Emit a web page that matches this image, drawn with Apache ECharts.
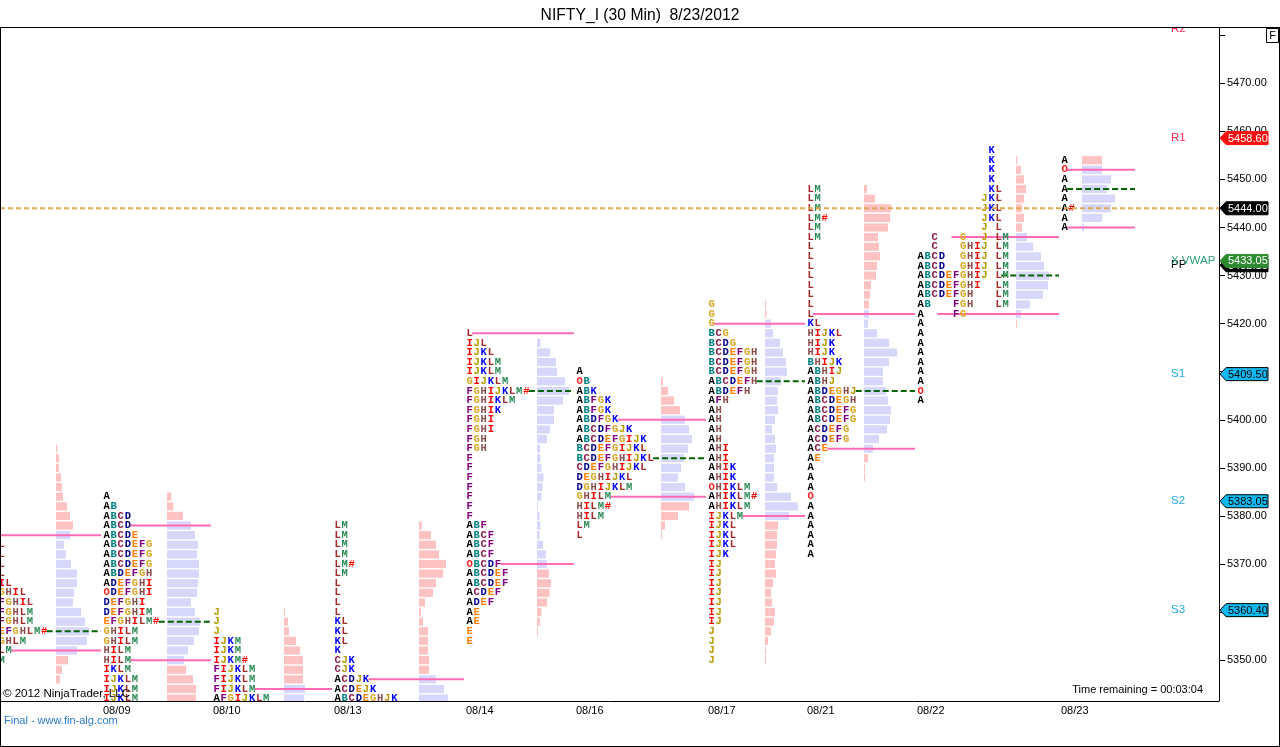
<!DOCTYPE html>
<html><head><meta charset="utf-8">
<script src="https://cdn.jsdelivr.net/npm/echarts@6/dist/echarts.min.js"></script>
<style>html,body{margin:0;padding:0;background:#fff}#c{width:1280px;height:747px}</style>
</head><body><div id="c"></div>
<script>
// ---------- data ----------
const sessionDates = ['', '08/09', '08/10', '08/13', '08/14', '08/16', '08/17', '08/21', '08/22', '08/23'];
// session start on the (bar-slot) time axis; last entry = current bar
const sessionX = [-2, 103, 213, 334, 466, 576, 708, 807, 917, 1061, 1137];
// time-axis position where each session's volume profile starts
const volumeX = [56, 167, 284, 419, 537, 661, 765, 864, 1016, 1082];
const tickSize = 2;
const tpoTop = [5374, 5384, 5360, 5378, 5418, 5410, 5424, 5448, 5456, 5454];
const tpoRows = [
  ['L','L','L','L','IL','GHIL','FGHIL','FGHLM','FGHLM','EFGHLM#','GHLM','LM','M'],
  ['A','AB','ABCD','ABCD','ABCDE','ABCDEFG','ABCDEFG','ABCDEFG','ABDEFGH','ADEFGHI','ODEFGHI','DEFGHI','DEFGHIM','EFGHILM#','GHILM','GHILM','HILM','HILM','IKLM','IJKLM','IJKLM','IJKLM'],
  ['J','J','J','IJKM','IJKM','IJKM#','FIJKLM','FIJKLM','FIJKLM','AFGIJKLM'],
  ['LM','LM','LM','LM','LM#','LM','L','L','L','L','KL','KL','KL','K','CJK','CJK','ACDJK','ACDEJK','ABCDEGHJK'],
  ['L','IJL','IJKL','IJKLM','IJKLM','GIJKLM','FGHIJKLM#','FGHIKLM','FGHIK','FGHI','FGHI','FGH','FGH','F','F','F','F','F','F','F','ABF','ABCF','ABCF','ABCF','OBCDF','ABCDEF','ABCDEF','ACDEF','ADEF','AE','AE','E','E'],
  ['A','OB','ABK','ABFGK','ABFGK','ABDFGK','ABCDFGJK','ABCDEFGIJK','BCDEFGIJKL','BCDEFGHIJKL','CDEFGHIJKL','DEGHIJKL','DGHIJKLM','GHILM','HILM#','HILM','LM','L'],
  ['G','G','G','BCG','BCDG','BCDEFGH','BCDEFGH','BCDEFGH','ABCDEFH','ABDEFH','AFH','AH','AH','AH','AH','AHI','AHI','AHIK','AHIK','OHIKLM','AHIKLM#','AHIKLM','IJKLM','IJKL','IJKL','IJKL','IJK','IJ','IJ','IJ','IJ','IJ','IJ','IJ','J','J','J','J'],
  ['LM','LM','LM','LM#','LM','LM','L','L','L','L','L','L','L','L','KL','HIJKL','HIJK','HIJK','BHIJK','ABHIJ','ABHJ','ABDEGHJ','ABCDEGH','ABCDEFG','ABCDEFG','ACDEFG','ACDEFG','ACE','AE','A','A','A','O','A','A','A','A','A','A'],
  ['          K','          K','          K','          K','          KL','         JKL','         JKL','         JKL','         J L','  C   G  J LM','  C   GHIJ LM','ABCD  GHIJ LM','ABCD  GHIJ LM','ABCDEFGHIJ LM','ABCDEFGHI  LM','ABCDEFGH   LM','AB   FGH   LM','A    FG','A','A','A','A','A','A','A','O','A'],
  ['A','O','A','A','A','A#','A','A']
];
const volTop = [5394, 5384, 5360, 5378, 5416, 5408, 5424, 5448, 5454, 5454];
const volumes = [
  [1.3,3,3,5,6,7,11,14,17,14,8,10,15,21,21,18,17,25,29,33,31,21,12,6,4],
  [4.3,6.3,16,24,28,31,30,32,32,31,30,24,28,33,32,27,21,17,19,26,29,29],
  [1,4,5,12,16,19,19,19,21,20],
  [2.7,12,17,20,27,24,17,14,6,2,4,9,9,9,10,10,17,25,29],
  [3.5,13,19,20,28,32,26,17,17,13,10,3,3.5,4.5,6.5,5.5,4.5,1,2.5,3.5,2.5,6,9,10,12,14,12.5,10,4.5,3,0.5],
  [2,7,13,19,24,28,31,27,23,20,17,24,33,28,17,4,1],
  [1,1.5,6,8,15,18,21,22,16,13,12,13,10,7,10,11,9,9,9,12,26,33,24,13,12,12,11,10,11,8,6,7,10,9,6,3,1,0.7],
  [3,11,27,26,24,14,15,16,13,12,7,6,5,5,4,13,25,33,25,19,19,22,24,27,26,23,15,9,4,1,1],
  [1.3,5,8,10,8,6,8,6,11,17,25,28,33,32,27,14,5,0.7],
  [20,20,29,25,33,29,20,1.7]
];
const vaHigh = [5376, 5378, 5344, 5346, 5418, 5400, 5420, 5422, 5438, 5452];
const vaLow  = [5352, 5350, null, null, 5370, 5384, 5380, 5394, 5422, 5440];
const pocPrice = [5356, 5358, null, null, 5406, 5392, 5408, 5406, 5430, 5448];
const lastPrice = 5444.00;
const pivotNames = ['R2', 'R1', 'PP', 'S1', 'S2', 'S3'];
const pivotValues = [5481.25, 5458.60, 5432.15, 5409.50, 5383.05, 5360.40];
const vwapValue = 5433.05;
const yTickValues = [5350, 5360, 5370, 5380, 5390, 5400, 5410, 5420, 5430, 5440, 5450, 5460, 5470, 5480];
const yLabelValues = [5350, 5360, 5370, 5380, 5390, 5400, 5410, 5420, 5430, 5440, 5450, 5460, 5470];

// ---------- styles ----------
const X_MAX = 1219;
const CW = 7.1;
const LAV = '#D7D7FB', PINK = '#FFC2C2';
const letterColors = {A:'#000000', B:'#008080', C:'#8B1A4A', D:'#00008B', E:'#FF8000', F:'#800080',
  G:'#DAA520', H:'#8B4C4C', I:'#FF0000', J:'#B89A00', K:'#0000FF', L:'#A52A2A', M:'#2E8B57', O:'#FF2020', '#':'#FF0000'};
const FONT_SANS = '"Liberation Sans", Arial, sans-serif';

// ---------- build series data ----------
const letterData = [], letterChars = [];
tpoRows.forEach((rows, d) => rows.forEach((s, r) => {
  const p = tpoTop[d] - tickSize * r;
  for (let c = 0; c < s.length; c++) {
    if (s[c] !== ' ') { letterData.push([sessionX[d], p, c]); letterChars.push(s[c]); }
  }
}));
const barData = [];
volumes.forEach((vals, d) => vals.forEach((v, r) => {
  const p = volTop[d] - tickSize * r;
  const lo = vaLow[d] == null ? -Infinity : vaLow[d];
  barData.push([volumeX[d], p, v, (p <= vaHigh[d] && p >= lo) ? 1 : 0]);
}));
function lettersAt(d, p) {
  const r = Math.round((tpoTop[d] - p) / tickSize);
  const s = tpoRows[d][r];
  return s ? s.replace(/ /g, '').length : 0;
}
const lineData = [];
for (let d = 0; d < tpoRows.length; d++) {
  [[vaHigh[d], 0], [vaLow[d], 0], [pocPrice[d], 1]].forEach(([p, k]) => {
    if (p != null) lineData.push([sessionX[d], p, lettersAt(d, p), sessionX[d + 1], k]);
  });
}
const tagData = [[pivotValues[1]], [lastPrice], [pivotValues[2]], [vwapValue], [pivotValues[3]], [pivotValues[4]], [pivotValues[5]]];
const tagStyles = [
  {bg:'#FF1010', fg:'#FFFFFF', border:null},
  {bg:'#000000', fg:'#FFFFFF', border:null},
  {bg:'#000000', fg:'#FFFFFF', border:null},
  {bg:'#2E8B30', fg:'#FFFFFF', border:null},
  {bg:'#10B8F0', fg:'#000000', border:'#000000'},
  {bg:'#10B8F0', fg:'#000000', border:'#000000'},
  {bg:'#10B8F0', fg:'#000000', border:'#000000'}
];
const labelData = pivotValues.map(v => [v]).concat([[vwapValue]]);
const labelTexts = pivotNames.concat(['X VWAP']);
const labelColor = n => n === 'X VWAP' ? '#2FA07A' : (n[0] === 'R' ? '#FF2050' : (n === 'PP' ? '#000000' : '#22A8E8'));

function gridClip(params) {
  const c = params.coordSys;
  return {type: 'rect', shape: {x: c.x, y: c.y, width: c.width, height: c.height}};
}

const chart = echarts.init(document.getElementById('c'));
chart.setOption({
  animation: false,
  backgroundColor: '#ffffff',
  title: {text: 'NIFTY_I (30 Min)  8/23/2012', left: 'center', top: 3,
    textStyle: {fontFamily: FONT_SANS, fontSize: 15.7, fontWeight: 'normal', color: '#000'}},
  grid: {left: 0, right: 61, top: 28, bottom: 46},
  xAxis: {type: 'value', min: 0, max: X_MAX, splitLine: {show: false},
    axisLine: {show: true, onZero: false, lineStyle: {color: '#000', width: 1}},
    axisTick: {show: false},
    axisLabel: {customValues: sessionX.slice(1, sessionDates.length),
      formatter: v => sessionDates[sessionX.indexOf(v)] || '',
      align: 'left', margin: 4, color: '#000', fontFamily: FONT_SANS, fontSize: 11}},
  yAxis: {type: 'value', position: 'right', min: 5341.5, max: 5481.5, splitLine: {show: false},
    axisLine: {show: true, onZero: false, lineStyle: {color: '#000', width: 1}},
    axisTick: {show: true, inside: false, length: 6, customValues: yTickValues, lineStyle: {color: '#000'}},
    axisLabel: {customValues: yLabelValues, formatter: v => v.toFixed(2), margin: 8,
      color: '#000', fontFamily: FONT_SANS, fontSize: 11}},
  graphic: [
    {type: 'line', shape: {x1: 0, y1: 27.5, x2: 1280, y2: 27.5}, style: {stroke: '#000', lineWidth: 1}, z: 100},
    {type: 'line', shape: {x1: 0.5, y1: 27, x2: 0.5, y2: 747}, style: {stroke: '#000', lineWidth: 1}, z: 100},
    {type: 'line', shape: {x1: 1279.5, y1: 27, x2: 1279.5, y2: 747}, style: {stroke: '#000', lineWidth: 1}, z: 100},
    {type: 'line', shape: {x1: 0, y1: 746.5, x2: 1280, y2: 746.5}, style: {stroke: '#000', lineWidth: 1}, z: 100},
    {type: 'rect', shape: {x: 1266.5, y: 28.5, width: 12, height: 14}, style: {fill: '#fff', stroke: '#000', lineWidth: 1}, z: 100},
    {type: 'text', x: 1272.5, y: 36, style: {text: 'F', fill: '#000', font: '11px ' + FONT_SANS, align: 'center', verticalAlign: 'middle', textAlign: 'center', textVerticalAlign: 'middle'}, z: 101},
    {type: 'text', x: 3, y: 694, style: {text: '\u00A9 2012 NinjaTrader, LLC', fill: '#000', font: '11.5px ' + FONT_SANS, verticalAlign: 'middle', textVerticalAlign: 'middle'}, z: 100},
    {type: 'text', x: 4, y: 721, style: {text: 'Final - www.fin-alg.com', fill: '#2B7BD6', font: '11px ' + FONT_SANS, verticalAlign: 'middle', textVerticalAlign: 'middle'}, z: 100},
    {type: 'text', x: 1203, y: 690, style: {text: 'Time remaining = 00:03:04', fill: '#000', font: '11px ' + FONT_SANS, align: 'right', textAlign: 'right', verticalAlign: 'middle', textVerticalAlign: 'middle'}, z: 100}
  ],
  series: [
    { // volume profile bars
      type: 'custom', z: 2, clip: true, encode: {x: 0, y: 1}, data: barData,
      renderItem: (params, api) => {
        const a = api.coord([api.value(0), api.value(1)]);
        const b = api.coord([api.value(0) + api.value(2), api.value(1)]);
        const h = api.size([0, tickSize])[1] - 1.4;
        return {type: 'rect', shape: {x: a[0], y: a[1] - h / 2, width: Math.max(1, b[0] - a[0]), height: h},
          style: {fill: api.value(3) ? LAV : PINK}};
      }
    },
    { // value area and POC lines
      type: 'custom', z: 3, clip: true, encode: {x: 0, y: 1}, data: lineData,
      renderItem: (params, api) => {
        const a = api.coord([api.value(0), api.value(1)]);
        const e = api.coord([api.value(3), api.value(1)]);
        const isPoc = api.value(4) === 1;
        return {type: 'line', shape: {x1: a[0] + api.value(2) * CW - 1, y1: a[1], x2: e[0] - 2, y2: a[1]},
          style: {stroke: isPoc ? '#006400' : '#FF6AB4', lineWidth: 2, lineDash: isPoc ? [6, 3] : null}};
      }
    },
    { // TPO letters
      type: 'custom', z: 4, clip: true, encode: {x: 0, y: 1}, data: letterData,
      renderItem: (params, api) => {
        const p = api.coord([api.value(0), api.value(1)]);
        const ch = letterChars[params.dataIndex];
        return {type: 'group', clipPath: gridClip(params), children: [{type: 'text', x: p[0] + api.value(2) * CW + CW / 2, y: p[1],
          style: {text: ch, fill: letterColors[ch] || '#000', font: 'bold 10.5px "Liberation Mono", monospace',
            align: 'center', verticalAlign: 'middle', textAlign: 'center', textVerticalAlign: 'middle'}}]};
      }
    },
    { // last price line
      type: 'custom', z: 6, data: [[0, lastPrice]], encode: {x: 0, y: 1},
      renderItem: (params, api) => {
        const a = api.coord([0, api.value(1)]);
        const b = api.coord([X_MAX, api.value(1)]);
        return {type: 'line', shape: {x1: a[0], y1: a[1], x2: b[0], y2: b[1]},
          style: {stroke: '#DCA848', lineWidth: 2, lineDash: [5, 3], opacity: 0.95}};
      }
    },
    { // pivot / vwap names
      type: 'custom', z: 7, clip: true, data: labelData.map(d => [X_MAX, d[0]]), encode: {x: 0, y: 1},
      renderItem: (params, api) => {
        const p = api.coord([api.value(0), api.value(1)]);
        const t = labelTexts[params.dataIndex];
        return {type: 'group', clipPath: gridClip(params), children: [{type: 'text', x: p[0] - 48, y: p[1],
          style: {text: t, fill: labelColor(t), font: '11.5px ' + FONT_SANS, align: 'left', verticalAlign: 'middle', textAlign: 'left', textVerticalAlign: 'middle'}}]};
      }
    },
    { // axis price tags
      type: 'custom', z: 20, clip: false, data: tagData.map(d => [X_MAX, d[0]]), encode: {x: 0, y: 1},
      renderItem: (params, api) => {
        const p = api.coord([api.value(0), api.value(1)]);
        const st = tagStyles[params.dataIndex];
        const x = p[0], y = p[1];
        return {type: 'group', children: [
          {type: 'polygon', shape: {points: [[x + 1, y], [x + 7, y - 6.5], [x + 49, y - 6.5], [x + 49, y + 6.5], [x + 7, y + 6.5]]},
            style: {fill: st.bg, stroke: st.border || st.bg, lineWidth: 1}},
          {type: 'text', x: x + 9, y: y + 0.5,
            style: {text: api.value(1).toFixed(2), fill: st.fg, font: '11px ' + FONT_SANS, align: 'left', verticalAlign: 'middle', textAlign: 'left', textVerticalAlign: 'middle'}}
        ]};
      }
    }
  ]
});
</script>
</body></html>
